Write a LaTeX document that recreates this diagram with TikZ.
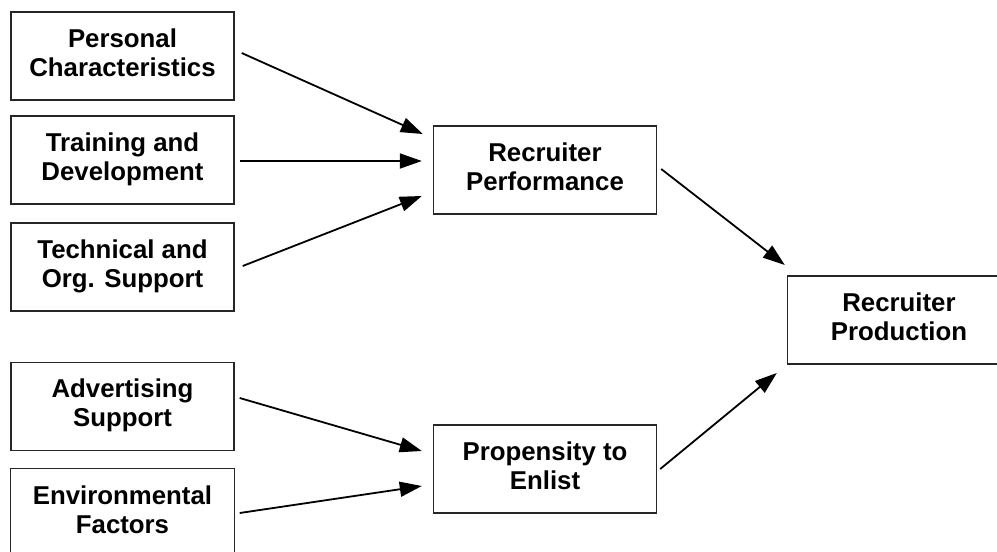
\documentclass[tikz,border=0pt]{standalone}
\usepackage{fontspec}
\setmainfont{Liberation Sans}
\usetikzlibrary{arrows.meta}

\tikzset{
  factor/.style={draw=black!85, line width=1.4pt, inner sep=0pt,
    minimum width=223pt, minimum height=88pt, align=center,
    font=\fontsize{25.8}{29}\selectfont\bfseries},
  arr/.style={line width=1.8pt,
    -{Triangle[length=22pt,width=15pt]}},
}

\begin{document}
\begin{tikzpicture}[x=1pt,y=-1pt]
  \clip (0,0) rectangle (997,552);
  \fill[white] (0,0) rectangle (997,552);

  % input factors
  \node[factor] (pc) at (122.5,56)  {\strut Personal\\\strut Characteristics};
  \node[factor] (td) at (122.5,160) {\strut Training and\\\strut Development};
  \node[factor] (ts) at (122.5,267) {\strut Technical and\\\strut Org. Support};
  \node[factor] (as) at (122.5,406.5) {\strut Advertising\\\strut Support};
  % this box runs past the lower edge of the page
  \node[factor, draw=none] (ef) at (122.5,513) {\strut Environmental\\\strut Factors};
  \draw[draw=black!85, line width=1.4pt]
    (ef.north west) rectangle ([yshift=-30pt]ef.south east);

  % intermediate outcomes
  \node[factor] (rp) at (545,170) {\strut Recruiter\\\strut Performance};
  \node[factor] (pe) at (545,469) {\strut Propensity to\\\strut Enlist};

  % final outcome
  \node[factor] (pr) at (899,320) {\strut Recruiter\\\strut Production};

  % connectors
  \draw[arr] ([shift={(7,-3)}]pc.east) -- ([shift={(-10,-36)}]rp.west);
  \draw[arr] ([shift={(5,1)}]td.east)  -- ([shift={(-11,-9)}]rp.west);
  \draw[arr] ([shift={(8,-1)}]ts.east) -- ([shift={(-11,26)}]rp.west);
  \draw[arr] ([shift={(5,-8.5)}]as.east) -- ([shift={(-11,-18)}]pe.west);
  \draw[arr] ([shift={(5,0)}]ef.east)  -- ([shift={(-11,17)}]pe.west);
  \draw[arr] ([shift={(4,-1)}]rp.east) -- ([shift={(-2,-55)}]pr.west);
  \draw[arr] ([shift={(3,0)}]pe.east)  -- ([shift={(-10,53)}]pr.west);
\end{tikzpicture}
\end{document}
